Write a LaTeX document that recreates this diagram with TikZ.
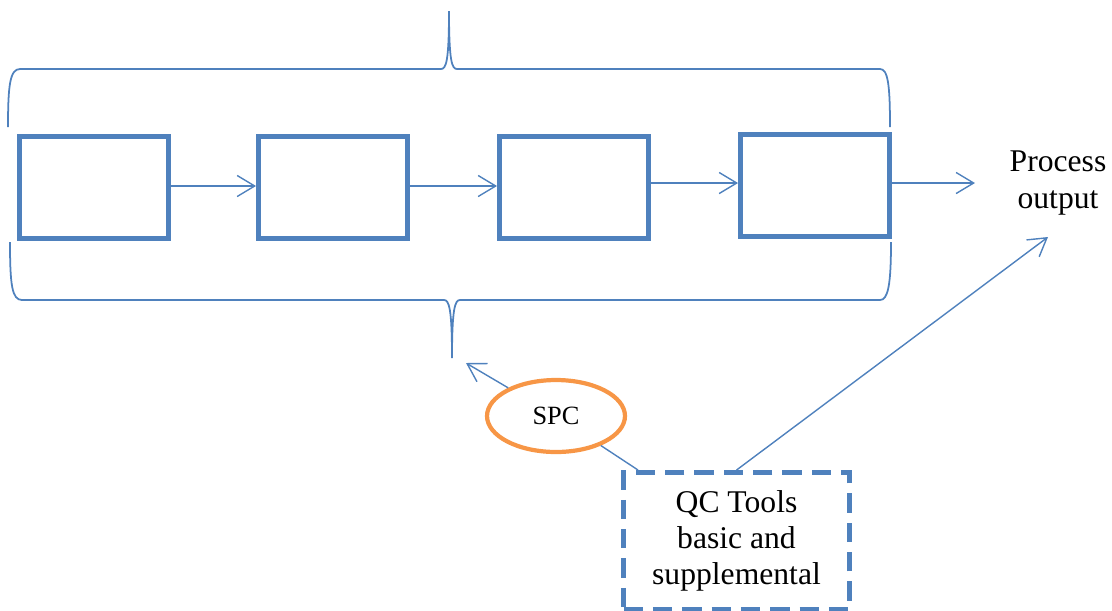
\documentclass[tikz,border=0pt]{standalone}
\usepackage{fontspec}
\setmainfont{Liberation Serif}
\usetikzlibrary{arrows.meta,shapes.geometric}

\definecolor{ofblue}{HTML}{4F81BD}
\definecolor{oforange}{HTML}{F79646}

\tikzset{
	stage/.style={draw=ofblue, line width=2.8pt, minimum width=2.98cm, minimum height=2.04cm, inner sep=0pt},
	flow/.style={draw=ofblue, line width=0.8pt, -{Straight Barb[length=10pt,width=12pt]}},
	link/.style={draw=ofblue, line width=0.8pt},
	brace/.style={draw=ofblue, line width=1pt}
}

\begin{document}
\begin{tikzpicture}[x=0.02cm, y=-0.02cm]
			\useasboundingbox (0,0) rectangle (1112,610);
			% process stages
			\node[stage] (S1) at (94,187.5) {};
			\node[stage] (S2) at (333,187.5) {};
			\node[stage] (S3) at (574,187.5) {};
			\node[stage] (S4) at (815,185.5) {};
			\node[align=center, font=\fontsize{18}{20.7}\selectfont] (Out) at (1058,183) {Process\\output};
			\coordinate (OutIn) at (975,183);
			\draw[flow] (S1.east |- 0,186) -- (S2.west |- 0,186);
			\draw[flow] (S2.east |- 0,186) -- (S3.west |- 0,186);
			\draw[flow] (S3.east |- 0,183) -- (S4.west |- 0,183);
			\draw[flow] (S4.east |- OutIn) -- (OutIn);
			% braces
			\draw[brace] (8,127) .. controls (8,85) and (10,69) .. (20,69)
			-- (441,69) .. controls (446,69) and (449,62) .. (449,11)
			.. controls (449,62) and (452,69) .. (457,69)
			-- (880,69) .. controls (888,69) and (890,85) .. (890,127);
			\draw[brace] (10,242) .. controls (10,285) and (12,300) .. (22,300)
			-- (444,300) .. controls (449,300) and (452,308) .. (452,358)
			.. controls (452,308) and (455,300) .. (460,300)
			-- (880,300) .. controls (888,300) and (891,285) .. (891,242);
			% tools
			\node[ellipse, draw=oforange, line width=2.4pt, minimum width=2.76cm, minimum height=1.44cm, inner sep=0pt, font=\fontsize{15}{18}\selectfont] (SPC) at (556,416) {SPC};
			\node[draw=ofblue, line width=2.8pt, dash pattern=on 11pt off 5.7pt, minimum width=4.52cm, minimum height=2.74cm, align=center, font=\fontsize{18}{20.7}\selectfont] (QC) at (736.5,541) {QC Tools\\basic and\\supplemental};
			\coordinate (BraceTip) at (466,363);
			\coordinate (QCin) at (638,470);
			\coordinate (OutTip) at (1048,237);
			\draw[flow] (SPC) -- (BraceTip);
			\draw[link] (SPC) -- (QCin);
			\draw[flow] (QC.north) -- (OutTip);
\end{tikzpicture}
\end{document}
